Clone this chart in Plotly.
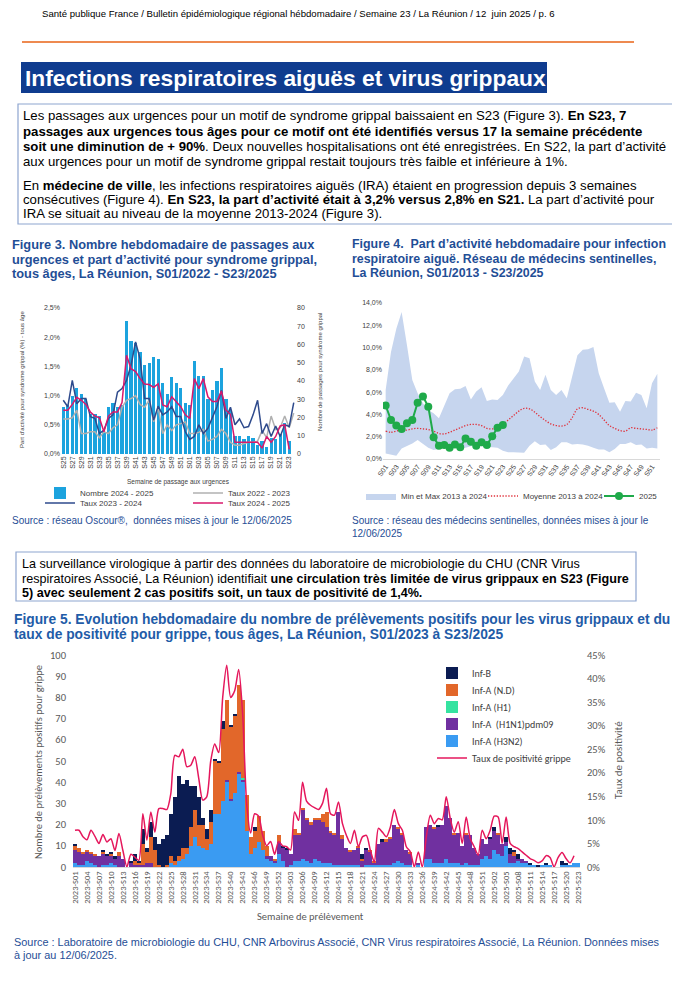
import plotly.graph_objects as go

W, H = 680, 1000
OFF = 8  # the page body margin shifts the figure by 8 px
def X(p): return (p - OFF) / W
def Y(p): return 1 - (p - OFF) / H

NARROW = "Liberation Sans Narrow, Arial Narrow, Liberation Sans, sans-serif"
ARIAL = "Liberation Sans, Arial, sans-serif"
CALIBRI = "Carlito, Lato, sans-serif"
BLUE_TXT = "#1F4E96"

# ---------------- Figure 3 data ----------------
f3_weeks = ["S25","S26","S27","S28","S29","S30","S31","S32","S33","S34","S35","S36","S37","S38",
            "S39","S40","S41","S42","S43","S44","S45","S46","S47","S48","S49","S50","S51","S52",
            "S01","S02","S03","S04","S05","S06","S07","S08","S09","S10","S11","S12","S13","S14",
            "S15","S16","S17","S18","S19","S20","S21","S22","S23","S24"]
f3_nombre_2024_2025 = [26,27,32,36,33,30,22,22,21,12,26,28,26,27,73,62,61,56,49,50,53,52,39,33,42,39,36,28,
                       27,51,43,43,30,35,40,47,30,24,10,10,8,10,9,5,7,4,9,8,11,17,7,None]
f3_taux_2022_2023 = [0.6,0.6,0.62,0.75,0.35,0.35,0.38,0.38,0.28,0.38,0.35,0.45,0.5,0.8,0.92,0.95,1.0,0.85,0.8,0.92,
                     0.55,0.8,0.35,0.5,0.4,0.5,0.52,0.55,0.35,0.35,0.37,0.42,0.22,0.25,0.3,0.42,0.35,0.2,0.15,0.15,
                     0.18,0.2,0.2,0.22,0.4,0.28,0.65,0.42,0.45,0.65,0.45,0.7]
f3_taux_2023_2024 = [0.92,0.81,1.26,0.86,0.95,0.95,0.64,0.61,0.35,0.41,0.61,0.67,1.06,1.12,1.26,1.52,1.92,1.63,0.95,0.95,
                     0.58,0.82,0.67,0.72,0.81,0.64,0.64,0.38,0.25,0.3,0.5,0.35,0.44,0.61,0.81,1.09,0.61,0.8,0.5,0.6,
                     0.45,0.47,0.67,0.92,0.35,0.52,0.3,0.48,0.3,0.5,0.47,0.88]
f3_taux_2024_2025 = [0.75,0.75,0.85,0.97,0.92,0.85,0.72,0.65,0.62,0.38,0.65,0.72,0.72,0.88,1.69,1.46,1.41,1.29,1.2,1.19,
                     1.14,1.2,0.84,0.81,0.98,0.9,0.81,0.67,0.61,1.29,1.12,1.29,0.98,0.9,0.9,1.08,0.75,0.68,0.2,0.2,
                     0.2,0.2,0.2,0.2,0.1,0.3,0.2,0.3,0.48,0.5,0.08,None]

# ---------------- Figure 4 data ----------------
f4_weeks = ["S01","S02","S03","S04","S05","S06","S07","S08","S09","S10","S11","S12","S13","S14","S15","S16",
            "S17","S18","S19","S20","S21","S22","S23","S24","S25","S26","S27","S28","S29","S30","S31","S32",
            "S33","S34","S35","S36","S37","S38","S39","S40","S41","S42","S43","S44","S45","S46","S47","S48",
            "S49","S50","S51","S52"]
f4_max = [6.2,9.6,11.7,13.2,10.2,7.1,5.9,5.0,4.4,4.1,3.65,4.85,5.9,6.25,6.3,6.55,5.35,6.05,6.45,5.2,
          5.35,5.3,5.75,6.6,7.25,7.85,9.2,9.05,6.95,6.2,7.55,6.2,5.75,6.2,5.45,7.5,9.3,9.8,9.85,10.05,
          7.7,6.35,5.05,5.1,4.25,5.2,5.15,5.95,5.75,4.55,6.8,7.65]
f4_min = [0.5,0.4,0.3,0.95,1.15,1.4,1.7,1.35,1.0,0.8,0.9,1.1,1.2,1.15,1.05,1.0,1.15,1.2,1.15,1.1,
          1.05,1.0,0.75,0.6,0.6,0.6,0.55,1.2,1.6,1.25,1.3,0.8,1.05,1.5,1.5,1.3,1.35,1.3,1.2,1.0,
          0.85,0.85,0.6,0.9,1.35,1.35,1.5,1.25,1.3,0.95,1.0,0.95]
f4_moyenne = [2.5,2.4,2.5,2.6,2.6,2.7,2.75,2.7,2.65,2.5,2.3,2.25,2.4,2.6,2.8,3.0,3.1,3.1,3.0,2.75,
              2.7,2.8,3.1,3.5,3.9,4.3,4.55,4.5,4.2,3.8,3.45,3.15,3.0,2.95,3.1,3.7,4.5,4.6,4.45,4.3,
              4.0,3.5,3.0,2.75,2.55,2.5,2.8,2.75,2.7,2.65,2.6,2.8]
f4_2025 = [4.8,3.5,3.0,2.7,3.2,3.5,5.05,5.6,4.7,1.95,1.2,1.25,1.0,1.3,1.05,1.85,1.55,1.2,1.5,1.25,2.05,2.8,3.05]

# ---------------- Figure 5 data ----------------
f5_weeks = ([f"2023-S{w:02d}" for w in range(1, 53)] + [f"2024-S{w:02d}" for w in range(1, 53)]
            + [f"2025-S{w:02d}" for w in range(1, 24)])
f5_h3n2 = ([2,1,1,3,2,1,0,1,1,2, 1,0,0,0,0,0,0,0,0,0, 0,0,0,0,2,1,3,4,6,10, 14,10,9,8,11,25,25,31,40,31,
            35,44,40,17,6,9,12,8,4,3, 2,6]
           + [3,0,1,3,3,4,3,2,4,3, 2,2,2,1,1,1,1,1,1,1, 0,1,1,1,1,1,1,1,2,3, 2,1,1,0,1,0,4,4,2,2,
              2,4,2,2,2,1,2,1,1,1, 4,5]
           + [4,8,6,5,10,2,2,3,2,2, 1,1,0,1,1,1,0,0,1,1, 1,2,2])
f5_h1n1 = ([6,6,5,4,4,4,5,5,4,3, 3,5,4,0,2,1,1,1,2,2, 0,0,0,0,0,0,0,0,0,0, 0,0,0,0,0,0,0,0,1,1,
            0,1,1,0,0,0,0,0,1,2, 1,6]
           + [6,8,5,12,12,23,19,18,18,19, 19,17,14,14,25,12,8,6,7,8, 3,7,6,1,10,11,11,12,18,15,
              13,7,5,0,1,0,15,16,16,17, 18,25,21,13,14,9,13,14,8,5, 9,6]
           + [9,9,9,6,2,4,3,1,2,1, 0,0,0,0,0,0,0,0,0,0, 0,0,0])
f5_h1 = ([0]*42 + [1] + [0]*9) + [0]*52 + [0]*23
f5_nd = ([2,2,1,1,1,1,0,1,0,1, 0,2,0,0,0,2,1,10,5,12, 8,1,0,1,3,2,2,5,3,9, 13,10,11,5,10,25,24,34,38,34,
          36,41,37,17,8,8,12,9,5,0, 1,3]
         + [0,0,0,3,1,1,1,1,1,1, 4,7,1,1,0,2,0,1,0,1, 1,0,1,1,0,0,1,1,0,1, 1,0,1,0,0,0,0,0,1,0,
            0,0,0,1,0,0,1,0,0,0, 0,0]
         + [0,0,1,0,0,0,2,0,0,0, 0,0,0,0,0,0,0,0,0,0, 0,0,0])
f5_b = ([1,0,0,0,0,0,0,1,1,1, 1,0,0,0,1,3,1,7,2,7, 6,10,13,14,20,30,38,30,32,19, 11,13,3,5,6,1,1,4,0,1,
         1,0,0,0,0,2,0,0,0,0, 0,0]
        + [1,1,0,0,0,0,0,0,0,0, 0,0,0,0,0,0,0,0,0,0, 2,1,0,0,0,1,0,0,0,0, 0,0,0,0,0,0,0,0,0,1,
           0,0,0,0,0,0,0,0,0,0, 0,0]
        + [1,2,0,0,2,3,1,2,0,0, 1,0,1,0,1,0,0,0,2,1, 0,0,0])
f5_taux = ([7.8,7.8,6.4,5.8,7.8,6.5,5.0,6.9,5.3,6.0, 3.5,7.1,3.5,0.0,2.7,2.1,1.4,11.3,5.7,11.7,
            7.4,12.4,12.4,12.2,15.6,23.7,23.4,25.0,21.3,21.6, 23.4,18.8,14.2,14.9,22.5,26.1,24.3,36.0,42.8,36.0,
            37.4,41.9,32.4,13.5,7.2,11.3,10.8,6.8,4.5,5.4, 2.7,5.4]
           + [4.5,4.3,3.6,11.7,9.9,18.0,14.0,13.1,12.6,12.2, 13.5,16.7,11.3,11.0,13.8,9.2,6.7,5.0,7.8,4.3,
              6.4,6.7,3.5,1.0,8.2,7.4,6.4,8.5,12.2,9.2, 7.8,4.3,3.2,0.0,3.2,0.0,6.4,11.0,9.2,10.3,
              10.0,14.9,10.3,7.4,9.6,5.0,10.6,6.0,4.3,2.5, 7.8,6.0]
           + [7.8,10.8,10.6,5.0,10.6,5.0,4.3,3.9,3.2,2.5, 1.8,1.4,0.9,1.3,2.4,2.0,0.0,2.0,3.1,1.8,
              0.9,2.4,None])

fig = go.Figure()

# ---- Figure 3 traces ----
fig.add_trace(go.Bar(x=f3_weeks, y=f3_nombre_2024_2025, name="Nombre 2024 - 2025", marker_color="#1CA3DE",
                     marker_line_width=0, width=0.72, xaxis="x", yaxis="y", legend="legend"))
fig.add_trace(go.Scatter(x=f3_weeks, y=f3_taux_2022_2023, name="Taux 2022 - 2023", mode="lines",
                         line=dict(color="#B0B0B0", width=1.5), xaxis="x", yaxis="y2", legend="legend2"))
fig.add_trace(go.Scatter(x=f3_weeks, y=f3_taux_2023_2024, name="Taux 2023 - 2024", mode="lines",
                         line=dict(color="#2E4A8C", width=1.5), xaxis="x", yaxis="y2", legend="legend3"))
fig.add_trace(go.Scatter(x=f3_weeks, y=f3_taux_2024_2025, name="Taux 2024 - 2025", mode="lines",
                         line=dict(color="#D8186C", width=1.5), xaxis="x", yaxis="y2", legend="legend4"))

# ---- Figure 4 traces ----
fig.add_trace(go.Scatter(x=f4_weeks, y=f4_min, mode="lines", line=dict(width=0, color="#C6D5EE"),
                         showlegend=False, hoverinfo="skip", xaxis="x2", yaxis="y3"))
fig.add_trace(go.Scatter(x=f4_weeks, y=f4_max, mode="lines", line=dict(width=0, color="#C6D5EE"),
                         fill="tonexty", fillcolor="#C6D5EE", name="Min et Max 2013 à 2024",
                         xaxis="x2", yaxis="y3", legend="legend5"))
fig.add_trace(go.Scatter(x=f4_weeks, y=f4_moyenne, mode="lines", name="Moyenne 2013 à 2024",
                         line=dict(color="#E0303A", width=1.3, dash="1.3px,1.6px", shape="spline"),
                         xaxis="x2", yaxis="y3", legend="legend6"))
fig.add_trace(go.Scatter(x=f4_weeks[:len(f4_2025)], y=f4_2025, mode="lines+markers", name="2025",
                         line=dict(color="#1FAA4A", width=2), marker=dict(size=8, color="#1FAA4A"),
                         xaxis="x2", yaxis="y3", legend="legend7"))

# ---- Figure 5 traces ----
f5_series = [("Inf-A (H3N2)", f5_h3n2, "#3A9BF2", "legend12"),
             ("Inf-A  (H1N1)pdm09", f5_h1n1, "#7030A0", "legend11"),
             ("Inf-A (H1)", f5_h1, "#35E3A0", "legend10"),
             ("Inf-A (N.D)", f5_nd, "#E2672A", "legend9"),
             ("Inf-B", f5_b, "#0B1C52", "legend8")]
for name, vals, col, lg in f5_series:
    fig.add_trace(go.Bar(x=f5_weeks, y=vals, name=name, marker_color=col, marker_line_width=0, width=1.0,
                         xaxis="x3", yaxis="y4", legend=lg))
fig.add_trace(go.Scatter(x=f5_weeks, y=f5_taux, mode="lines", name="Taux de positivité grippe",
                         line=dict(color="#E5175C", width=1.5, shape="spline", smoothing=0.7),
                         xaxis="x3", yaxis="y5", legend="legend13"))

def leg(x, y, size=8, family=ARIAL):
    return dict(orientation="h", x=X(x), y=Y(y), xanchor="left", yanchor="middle",
                font=dict(size=size, family=family, color="#404040"), bgcolor="rgba(0,0,0,0)")

tick_small = dict(size=7, family=ARIAL, color="#404040")
fig.update_layout(
    width=W, height=H, margin=dict(l=0, r=0, t=0, b=0, autoexpand=False),
    paper_bgcolor="white", plot_bgcolor="rgba(0,0,0,0)",
    separators=", ", barmode="stack",
    font=dict(family=ARIAL),
    # Figure 3 axes
    xaxis=dict(domain=[X(61), X(296)], anchor="y", type="category", categoryorder="array",
               categoryarray=f3_weeks, range=[-0.5, 51.5], tickmode="array", tickvals=f3_weeks[::2],
               tickangle=-90, tickfont=tick_small, showgrid=False, zeroline=False, showline=False, ticks=""),
    yaxis=dict(domain=[Y(454), Y(308)], anchor="x", side="right", range=[0, 80], dtick=10,
               showgrid=False, zeroline=False, tickfont=tick_small, ticks=""),
    yaxis2=dict(overlaying="y", anchor="x", side="left", range=[0, 2.5], dtick=0.5, tickformat=".1f",
                ticksuffix="%", showgrid=False, zeroline=False, tickfont=tick_small, ticks=""),
    # Figure 4 axes
    xaxis2=dict(domain=[X(383), X(660)], anchor="y3", type="category", categoryorder="array",
                categoryarray=f4_weeks, range=[-0.5, 51.5], tickmode="array", tickvals=f4_weeks[::2],
                tickangle=-55, tickfont=tick_small, showgrid=False, zeroline=False, showline=True,
                linecolor="#D9D9D9", linewidth=1, ticks=""),
    yaxis3=dict(domain=[Y(459), Y(303)], anchor="x2", range=[0, 14], dtick=2, tickformat=".1f", ticksuffix="%",
                showgrid=False, zeroline=False, tickfont=tick_small, ticks=""),
    # Figure 5 axes
    xaxis3=dict(domain=[X(73), X(580)], anchor="y4", type="category", categoryorder="array",
                categoryarray=f5_weeks, range=[-0.5, 126.5], tickmode="array", tickvals=f5_weeks[::3],
                tickangle=-90, tickfont=dict(size=8.5, family=CALIBRI, color="#595959"),
                showgrid=False, zeroline=False, showline=True, linecolor="#D9D9D9", ticks=""),
    yaxis4=dict(domain=[Y(867), Y(655)], anchor="x3", range=[0, 100], dtick=10, showgrid=False,
                zeroline=False, tickfont=dict(size=10.5, family=CALIBRI, color="#595959"), ticks="",
                ticklabelstandoff=6),
    yaxis5=dict(overlaying="y4", anchor="x3", side="right", range=[0, 45], dtick=5, ticksuffix="%",
                showgrid=False, zeroline=False, tickfont=dict(size=10.5, family=CALIBRI, color="#595959"),
                ticks="", ticklabelstandoff=6),
    legend=leg(40, 493), legend2=leg(188, 493), legend3=leg(40, 503), legend4=leg(188, 503),
    legend5=leg(361, 496), legend6=leg(483, 496), legend7=leg(599, 496),
    legend8=leg(432, 673, 10, CALIBRI), legend9=leg(432, 690, 10, CALIBRI), legend10=leg(432, 707, 10, CALIBRI),
    legend11=leg(432, 724, 10, CALIBRI), legend12=leg(432, 741, 10, CALIBRI), legend13=leg(432, 758, 10, CALIBRI),
)

shapes = [
    dict(type="line", xref="paper", yref="paper", x0=X(22), x1=X(634), y0=Y(42), y1=Y(42),
         line=dict(color="#EE8A50", width=2)),
    dict(type="rect", xref="paper", yref="paper", x0=X(21), x1=X(547), y0=Y(93), y1=Y(62),
         fillcolor="#0F3C8F", line=dict(width=0)),
    dict(type="rect", xref="paper", yref="paper", x0=X(18), x1=X(674), y0=Y(224), y1=Y(104),
         line=dict(color="#8EA5D0", width=1.2)),
    dict(type="rect", xref="paper", yref="paper", x0=X(16), x1=X(636), y0=Y(601), y1=Y(552),
         line=dict(color="#8EA5D0", width=1.2)),
]

def txt(x, y, s, size, color="black", family=NARROW, xanchor="left", yanchor="middle", angle=0):
    return dict(x=X(x), y=Y(y), xref="paper", yref="paper", text=s, showarrow=False,
                xanchor=xanchor, yanchor=yanchor, textangle=angle,
                font=dict(size=size, color=color, family=family))

ann = []
ann.append(txt(40, 13, "Santé publique France / Bulletin épidémiologique régional hébdomadaire / Semaine 23 / La Réunion / 12  juin 2025 / p. 6", 9.6))
ann.append(txt(23, 78, "<b>Infections respiratoires aiguës et virus grippaux</b>", 22.8, "white"))

body1 = [
    "Les passages aux urgences pour un motif de syndrome grippal baissaient en S23 (Figure 3). <b>En S23, 7</b>",
    "<b>passages aux urgences tous âges pour ce motif ont été identifiés versus 17 la semaine précédente</b>",
    "<b>soit une diminution de + 90%</b>. Deux nouvelles hospitalisations ont été enregistrées. En S22, la part d’activité",
    "aux urgences pour un motif de syndrome grippal restait toujours très faible et inférieure à 1%.",
    "En <b>médecine de ville</b>, les infections respiratoires aiguës (IRA) étaient en progression depuis 3 semaines",
    "consécutives (Figure 4). <b>En S23, la part d’activité était à 3,2% versus 2,8% en S21.</b> La part d’activité pour",
    "IRA se situait au niveau de la moyenne 2013-2024 (Figure 3).",
]
for s, y in zip(body1, [116, 131, 146, 161, 185, 200, 214]):
    ann.append(txt(21, y, s, 13.2))

f3_title = ["<b>Figure 3. Nombre hebdomadaire de passages aux</b>",
            "<b>urgences et part d’activité pour syndrome grippal,</b>",
            "<b>tous âges, La Réunion, S01/2022 - S23/2025</b>"]
f4_title = ["<b>Figure 4.  Part d’activité hebdomadaire pour infection</b>",
            "<b>respiratoire aiguë. Réseau de médecins sentinelles,</b>",
            "<b>La Réunion, S01/2013 - S23/2025</b>"]
for s, y in zip(f3_title, [244, 259, 273]):
    ann.append(txt(10, y, s, 12.8, BLUE_TXT, ARIAL))
for s, y in zip(f4_title, [244, 259, 273]):
    ann.append(txt(350, y, s, 12.4, BLUE_TXT, ARIAL))

ann.append(txt(22, 380, "Part d’activité pour syndrome grippal (%) - tous âge", 6, "#404040", ARIAL, "center", "middle", -90))
ann.append(txt(320, 372, "Nombre de passages pour syndrome grippal", 6, "#404040", ARIAL, "center", "middle", -90))
ann.append(txt(178, 482, "Semaine de passage aux urgences", 6.5, "#404040", ARIAL, "center"))
ann.append(txt(10, 520, "Source : réseau Oscour®,  données mises à jour le 12/06/2025", 10, BLUE_TXT, ARIAL))
ann.append(txt(350, 520, "Source : réseau des médecins sentinelles, données mises à jour le", 10, BLUE_TXT, ARIAL))
ann.append(txt(350, 533, "12/06/2025", 10, BLUE_TXT, ARIAL))

body2 = [
    "La surveillance virologique à partir des données du laboratoire de microbiologie du CHU (CNR Virus",
    "respiratoires Associé, La Réunion) identifiait <b>une circulation très limitée de virus grippaux en S23 (Figure</b>",
    "<b>5) avec seulement 2 cas positifs soit, un taux de positivité de 1,4%.</b>",
]
for s, y in zip(body2, [564, 579, 593]):
    ann.append(txt(20, y, s, 12.6))

f5_title = ["<b>Figure 5. Evolution hebdomadaire du nombre de prélèvements positifs pour les virus grippaux et du</b>",
            "<b>taux de positivité pour grippe, tous âges, La Réunion, S01/2023 à S23/2025</b>"]
for s, y in zip(f5_title, [619, 634]):
    ann.append(txt(12, y, s, 13.8, "#1F5CA8"))

ann.append(txt(38, 762, "Nombre de prélèvements positifs pour grippe", 10.5, "#595959", CALIBRI, "center", "middle", -90))
ann.append(txt(618, 760, "Taux de positivité", 11, "#595959", CALIBRI, "center", "middle", -90))
ann.append(txt(310, 916, "Semaine de prélèvement", 10.5, "#595959", CALIBRI, "center"))
ann.append(txt(12, 942, "Source : Laboratoire de microbiologie du CHU, CNR Arbovirus Associé, CNR Virus respiratoires Associé, La Réunion. Données mises", 10.9, BLUE_TXT, ARIAL))
ann.append(txt(12, 955, "à jour au 12/06/2025.", 10.9, BLUE_TXT, ARIAL))

fig.update_layout(shapes=shapes, annotations=ann)
fig.write_html("out.html")
